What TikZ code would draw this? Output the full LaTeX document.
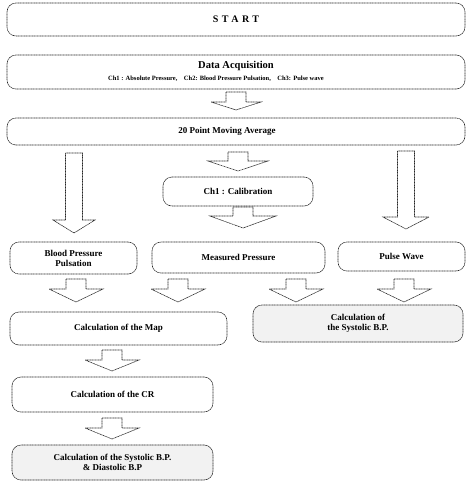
\documentclass[tikz,border=0pt]{standalone}
\usepackage{fontspec}
\setmainfont{Liberation Serif}
\tikzset{
  dotline/.style={draw=black!85, line width=0.6pt, dash pattern=on 1.1pt off 0.5pt},
  box/.style={dotline, rounded corners=9pt, inner sep=1pt, align=center, font=\bfseries\fontsize{9}{10}\selectfont},
  speckle/.style={fill=black!5},
}
\newcommand\hollowarrow[6]{%
  % #1 cx, #2 top, #3 head base, #4 tip, #5 shaft half, #6 head half
  \draw[dotline, line join=miter]
    ({#1-#5},#2) -- ({#1+#5},#2) -- ({#1+#5},#3) -- ({#1+#6},#3) -- (#1,#4)
    -- ({#1-#6},#3) -- ({#1-#5},#3) -- cycle;}
\begin{document}
\begin{tikzpicture}[x=1pt,y=-1pt]
\useasboundingbox (0,0) rectangle (467,483);
\node[box, minimum width=458pt, minimum height=33pt, font=\bfseries\fontsize{10}{11}\selectfont\addfontfeature{LetterSpace=35}] (start) at (236,19.5) {START};
\node[box, minimum width=458pt, minimum height=34pt] (acq) at (236,72) {};
\node (acqt) at (236,66) {\bfseries\fontsize{10.5}{11}\selectfont Data Acquisition};
\node (acqs) at (216,79) {\bfseries\fontsize{6.5}{7}\selectfont Ch1 : Absolute Pressure,\quad Ch2: Blood Pressure Pulsation,\quad Ch3: Pulse wave};
\node[box, minimum width=458pt, minimum height=27pt] (avg) at (236,131.5) {\hspace*{-18pt}20 Point Moving Average};
\node[box, minimum width=150pt, minimum height=29pt] (cal) at (238,191.5) {Ch1 : Calibration};
\node[box, minimum width=127pt, minimum height=32pt] (bpp) at (73.5,258) {Blood Pressure\\Pulsation};
\node[box, minimum width=173pt, minimum height=31pt] (mp) at (238.5,257.5) {Measured Pressure};
\node[box, minimum width=127pt, minimum height=29pt] (pw) at (401.5,256.5) {Pulse Wave};
\node[box, minimum width=217pt, minimum height=33pt] (map) at (118.5,328.5) {Calculation of the Map};
\node[box, speckle, minimum width=210pt, minimum height=37pt] (sys) at (358,323.5) {Calculation of\\the Systolic B.P.};
\node[box, minimum width=201pt, minimum height=35pt] (cr) at (112.5,394.5) {Calculation of the CR};
\node[box, speckle, minimum width=201pt, minimum height=35pt] (fin) at (112.5,462.5) {Calculation of the Systolic B.P.\\\& Diastolic B.P};
% hollow arrows
\hollowarrow{236}{92}{102}{110}{10}{25}
\hollowarrow{74}{153}{220}{233}{8.5}{21}
\hollowarrow{238}{152}{161}{171}{10}{30}
\hollowarrow{243}{207}{216}{228}{10}{33}
\hollowarrow{406}{151}{217}{229}{8.5}{23}
\hollowarrow{76}{279}{289}{302}{10}{27}
\hollowarrow{178}{279}{289}{302}{10}{27}
\hollowarrow{296}{279}{289}{302}{10}{27}
\hollowarrow{404}{279}{289}{302}{10}{27}
\hollowarrow{112}{350}{360}{371}{10}{27}
\hollowarrow{112}{418}{428}{439}{10}{27}
\end{tikzpicture}
\end{document}
